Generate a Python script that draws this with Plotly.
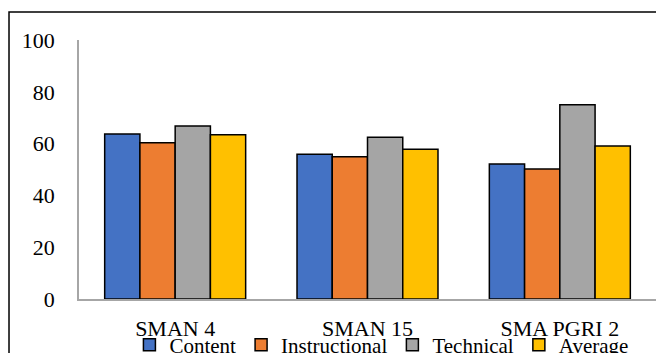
import plotly.graph_objects as go

categories = ["SMAN 4", "SMAN 15", "SMA PGRI 2"]
content = [63.7, 55.9, 52.1]
instructional = [60.3, 54.9, 50.2]
technical = [66.8, 62.5, 75.0]
average = [63.4, 57.8, 59.1]
y_ticks = [0, 20, 40, 60, 80, 100]

series = [
    ("Content", content, "#4472C4"),
    ("Instructional", instructional, "#ED7D31"),
    ("Technical", technical, "#A5A5A5"),
    ("Average", average, "#FFC000"),
]

FONT = "Liberation Serif, Times New Roman, serif"

fig = go.Figure()
for name, vals, col in series:
    fig.add_trace(go.Bar(
        x=categories, y=vals, name=name,
        marker=dict(color=col, line=dict(color="black", width=1.5)),
    ))

fig.update_layout(
    width=656, height=345,
    margin=dict(l=71, r=8, t=32, b=54, autoexpand=False),
    paper_bgcolor="white", plot_bgcolor="white",
    barmode="group", bargap=0.267, bargroupgap=0,
    font=dict(family=FONT, size=21, color="black"),
    showlegend=True,
    legend=dict(orientation="h", xref="container", yref="container",
                x=0.570, xanchor="center", y=0.023, yanchor="middle",
                font=dict(family=FONT, size=21, color="black"),
                bgcolor="rgba(0,0,0,0)", itemwidth=30, tracegroupgap=0),
    xaxis=dict(showgrid=False, showline=True, linecolor="#A6A6A6", linewidth=1.5,
               ticks="", tickfont=dict(family=FONT, size=22), ticklabelstandoff=9,
               automargin=False),
    yaxis=dict(range=[0, 100], tickvals=y_ticks, showgrid=False, showline=True,
               linecolor="#A6A6A6", linewidth=1.5, ticks="", zeroline=False,
               tickfont=dict(family=FONT, size=22), ticklabelstandoff=18,
               automargin=False),
)

fig.add_shape(type="rect", xref="paper", yref="paper",
              x0=-0.1213, x1=1.1, y0=-0.3, y1=1.108,
              line=dict(color="black", width=1.5), fillcolor="rgba(0,0,0,0)", layer="below")

fig.write_html("out.html")
